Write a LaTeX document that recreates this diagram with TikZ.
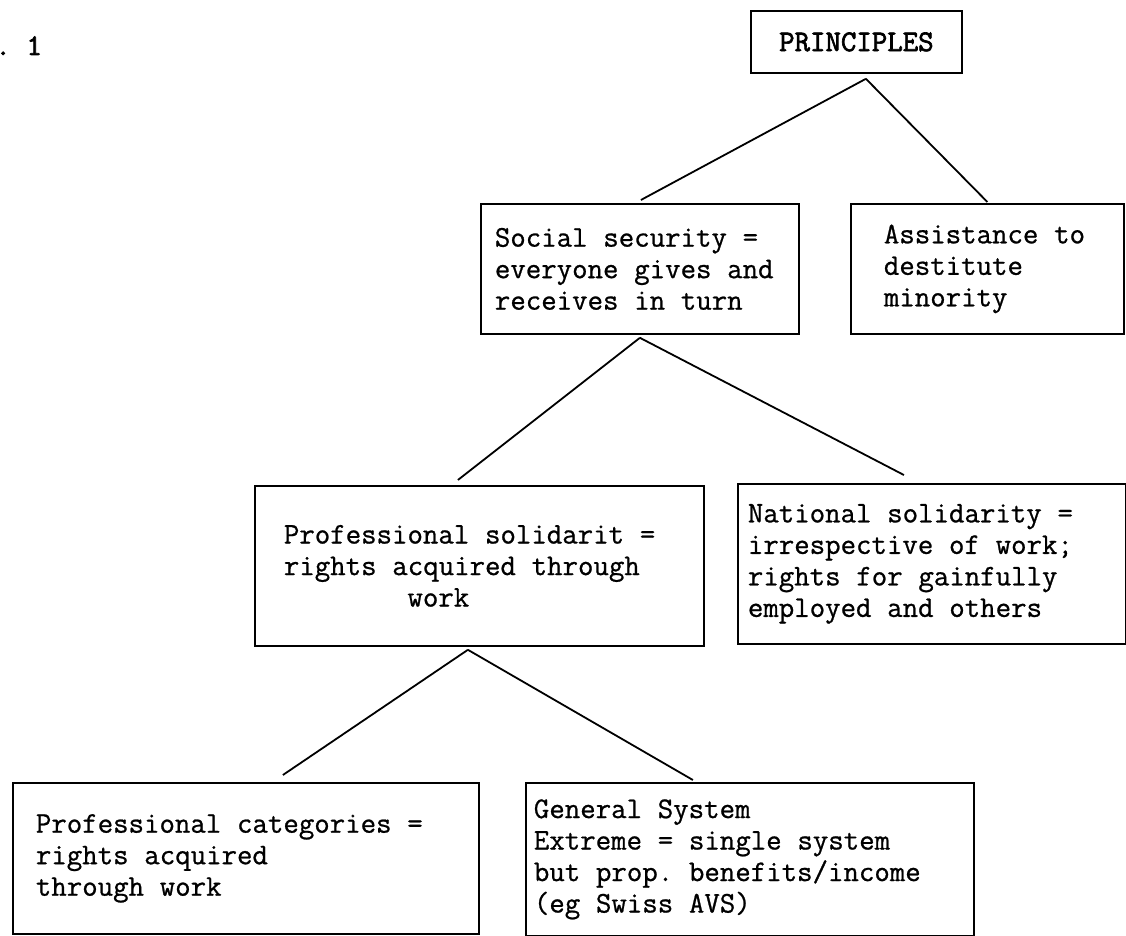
\documentclass[tikz,border=0pt]{standalone}
\usepackage{fontspec}
\newfontfamily\typefont{Latin Modern Mono}[FakeBold=0.8]
\newfontfamily\headfont{Latin Modern Mono}[FakeBold=2.2]
\tikzset{
  typed/.style  = {font=\typefont\fontsize{15}{15.75}\selectfont,
                   execute at begin node={\spaceskip=0.525em\xspaceskip=0.525em\relax}},
  panel/.style  = {typed, draw, line width=0.9pt, anchor=north west, align=left,
                   inner ysep=0pt},
  link/.style   = {line width=0.9pt},
}

\begin{document}
\frenchspacing
\begin{tikzpicture}[x=0.5pt, y=-0.5pt]
  \useasboundingbox (0,0) rectangle (1126,936);

  % ── figure number (cut at the left edge) ───────────────────────────────
  \node[typed, anchor=base west, inner sep=0pt,
        font=\headfont\fontsize{15}{15.75}\selectfont]
    (fignum) at (-5,55) {.\ 1};

  % ── level 0 ────────────────────────────────────────────────────────────
  \node[panel, align=center, minimum width=105.5pt, minimum height=31pt,
        font=\headfont\fontsize{15}{15.75}\selectfont]
    (princ) at (750,10) {PRINCIPLES};

  % ── level 1 ────────────────────────────────────────────────────────────
  \node[panel, inner xsep=7pt, text width=145pt, minimum height=65pt]
    (social) at (480,203)
    {Social security =\\everyone gives and\\receives in turn};
  \node[panel, inner xsep=16.5pt, text width=103.5pt, minimum height=65pt]
    (assist) at (850,203)
    {Assistance to\\destitute\\minority};

  % ── level 2 ────────────────────────────────────────────────────────────
  \node[panel, inner xsep=14.5pt, text width=195.5pt, minimum height=80pt]
    (profsol) at (254,485)
    {Professional solidarit =\\rights acquired through\\\phantom{xxxxxxxx}work};
  \node[panel, inner xsep=5pt, text width=184pt, minimum height=80pt]
    (natsol) at (737,483)
    {National solidarity =\\irrespective of work;\\rights for gainfully\\employed and others};

  % ── level 3 ────────────────────────────────────────────────────────────
  \node[panel, inner xsep=11.5pt, text width=210pt, minimum height=75.5pt]
    (profcat) at (12,782)
    {Professional categories =\\rights acquired\\through work};
  \node[panel, inner xsep=4pt, text width=216pt, minimum height=76.5pt]
    (general) at (525,782)
    {General System\\Extreme = single system\\but prop. benefits/income\\(eg Swiss AVS)};

  % ── connectors ─────────────────────────────────────────────────────────
  \draw[link] ([xshift=4.75pt,yshift=-2.5pt]princ.south)
    -- ([xshift=0.5pt,yshift=1.5pt]social.north);
  \draw[link] ([xshift=4.75pt,yshift=-2.5pt]princ.south)
    -- ([yshift=0.5pt]assist.north);

  \draw[link] ([yshift=-1.5pt]social.south)
    -- ([xshift=-10.75pt,yshift=2.5pt]profsol.north);
  \draw[link] ([yshift=-1.5pt]social.south)
    -- ([xshift=-14pt,yshift=4pt]natsol.north);

  \draw[link] ([xshift=-5.75pt,yshift=-1.5pt]profsol.south)
    -- ([xshift=18.5pt,yshift=3.5pt]profcat.north);
  \draw[link] ([xshift=-5.75pt,yshift=-1.5pt]profsol.south)
    -- ([xshift=-28.5pt,yshift=1pt]general.north);

\end{tikzpicture}
\end{document}
